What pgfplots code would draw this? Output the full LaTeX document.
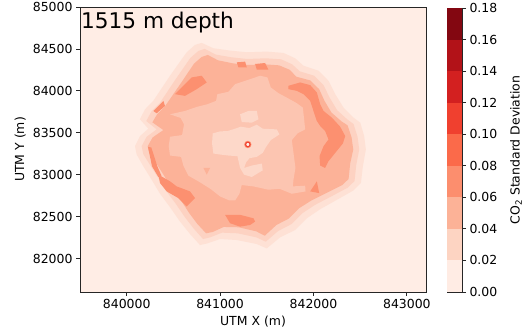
\documentclass[border=0pt]{standalone}
\usepackage{fontspec}
\setmainfont{DejaVu Sans}
\usepackage{pgfplots}
\pgfplotsset{compat=1.18}
\definecolor{bgc}{RGB}{255,237,229}
\definecolor{haloA}{RGB}{254,225,213}
\definecolor{haloB}{RGB}{253,210,194}
\definecolor{bodyc}{RGB}{252,178,152}
\definecolor{patchc}{RGB}{252,144,112}
\definecolor{innerc}{RGB}{252,197,177}
\definecolor{centc}{RGB}{253,216,201}
\definecolor{corec}{RGB}{255,242,236}
\definecolor{cA}{RGB}{255,236,228}
\definecolor{cB}{RGB}{253,212,194}
\definecolor{cC}{RGB}{252,178,151}
\definecolor{cD}{RGB}{252,142,110}
\definecolor{cE}{RGB}{251,106,74}
\definecolor{cF}{RGB}{240,64,47}
\definecolor{cG}{RGB}{211,32,32}
\definecolor{cH}{RGB}{178,18,24}
\definecolor{cI}{RGB}{131,7,17}
\pgfplotsset{
  every tick label/.append style={font=\fontsize{12.5}{14}\selectfont},
  every axis label/.append style={font=\fontsize{12.5}{14}\selectfont},
}
\begin{document}
\begin{tikzpicture}
\path[use as bounding box] (-80bp,-40bp) rectangle (446bp,292bp);
\begin{axis}[
  at={(0bp,0bp)}, anchor=south west,
  scale only axis, width=346bp, height=285bp,
  xmin=839500, xmax=843205, ymin=81600, ymax=85000,
  axis background/.style={fill=bgc},
  xtick={840000,841000,842000,843000},
  ytick={82000,82500,83000,83500,84000,84500,85000},
  scaled ticks=false,
  xticklabel style={/pgf/number format/.cd, fixed, set thousands separator={}, assume math mode=true},
  yticklabel style={/pgf/number format/.cd, fixed, set thousands separator={}, assume math mode=true},
  tick align=outside, tick pos=left,
  major tick length=4bp,
  tick style={black!85, line width=0.8bp},
  axis line style={black!85, line width=0.8bp},
  no markers,
  xlabel={UTM X (m)}, ylabel={UTM Y (m)},
  every axis x label/.style={at={(axis description cs:0.5,-0.105)}, anchor=center},
  every axis y label/.style={at={(axis description cs:-0.173,0.5)}, rotate=90, anchor=center},
]
% outer halo
\addplot[draw=none, fill=haloA] coordinates {
(840089,83340) (840142,83460) (840232,83548) (840142,83660) (840196,83780) (840285,83880)
(840357,84000) (840464,84180) (840553,84320) (840643,84460) (840732,84548) (840803,84572)
(840928,84508) (841107,84480) (841286,84460) (841500,84468) (841679,84452) (841804,84388)
(841893,84300) (842054,84240) (842161,84120) (842233,83960) (842322,83800) (842429,83680)
(842501,83620) (842543,83460) (842561,83300) (842529,83100) (842508,82900) (842429,82812)
(842251,82700) (842072,82588) (841929,82480) (841804,82340) (841643,82252) (841500,82120)
(841393,82172) (841179,82220) (841000,82232) (840864,82180) (840785,82160) (840678,82292)
(840571,82440) (840464,82612) (840357,82772) (840267,82940) (840178,83100) (840107,83240)};
% second halo
\addplot[draw=none, fill=haloB] coordinates {
(840160,83340) (840214,83452) (840321,83540) (840210,83640) (840264,83752) (840350,83848)
(840418,83960) (840518,84128) (840600,84260) (840682,84392) (840768,84476) (840836,84500)
(840954,84432) (841121,84400) (841289,84380) (841489,84388) (841654,84376) (841772,84316)
(841854,84232) (842008,84180) (842108,84068) (842172,83920) (842254,83768) (842361,83660)
(842429,83604) (842472,83452) (842490,83300) (842458,83116) (842440,82924) (842365,82844)
(842190,82740) (842018,82640) (841886,82544) (841768,82412) (841622,82328) (841489,82200)
(841389,82252) (841189,82300) (841021,82308) (840893,82252) (840818,82232) (840718,82356)
(840621,82496) (840521,82660) (840421,82808) (840335,82964) (840250,83116) (840178,83244)};
% main body
\addplot[draw=none, fill=bodyc] coordinates {
(840225,83340) (840278,83444) (840393,83532) (840275,83624) (840328,83724) (840410,83816)
(840475,83920) (840571,84076) (840646,84200) (840721,84324) (840803,84404) (840868,84428)
(840978,84364) (841136,84328) (841293,84308) (841479,84316) (841632,84304) (841743,84252)
(841818,84168) (841965,84124) (842061,84020) (842118,83880) (842193,83740) (842300,83636)
(842365,83588) (842408,83444) (842426,83300) (842393,83132) (842376,82948) (842308,82876)
(842136,82780) (841972,82688) (841847,82600) (841736,82476) (841604,82400) (841479,82272)
(841386,82324) (841200,82372) (841039,82376) (840921,82316) (840850,82300) (840757,82412)
(840668,82544) (840575,82704) (840478,82844) (840396,82996) (840314,83140) (840242,83252)};
% darker patches
\addplot[draw=none, fill=patchc] coordinates {
(840518,83960) (840696,84160) (840803,84180) (840857,84100) (840750,84020) (840625,83940)};
\addplot[draw=none, fill=patchc] coordinates {
(840285,83760) (840393,83880) (840410,83820) (840321,83732)};
\addplot[draw=none, fill=patchc] coordinates {
(841179,84340) (841268,84348) (841286,84280) (841196,84280)};
\addplot[draw=none, fill=patchc] coordinates {
(841375,84320) (841482,84332) (841518,84252) (841393,84252)};
\addplot[draw=none, fill=patchc] coordinates {
(841732,84060) (841857,84100) (841965,84068) (842036,83980) (842072,83840) (842108,83760)
(842197,83680) (842286,83572) (842340,83460) (842315,83372) (842233,83260) (842161,83160)
(842125,83080) (842072,83108) (842065,83220) (842108,83340) (842161,83420) (842125,83520)
(842072,83580) (842036,83640) (842000,83760) (841965,83880) (841893,83960) (841822,84000)
(841732,84020)};
\addplot[draw=none, fill=patchc] coordinates {
(841965,82800) (842036,82920) (842061,82780)};
\addplot[draw=none, fill=patchc] coordinates {
(841054,82520) (841214,82520) (841357,82480) (841375,82440) (841322,82400) (841214,82380)
(841107,82420)};
\addplot[draw=none, fill=patchc] coordinates {
(840339,83000) (840464,82920) (840535,82860) (840678,82800) (840732,82720) (840643,82620)
(840553,82720) (840428,82800) (840357,82900)};
\addplot[draw=none, fill=patchc] coordinates {
(840228,83332) (840264,83324) (840328,83100) (840375,82980) (840339,82972) (840271,83100)};
% inner lighter region
\addplot[draw=none, fill=innerc] coordinates {
(840464,83720) (840625,83760) (840750,83808) (840864,83840) (840957,83880) (840971,83960)
(841089,83988) (841161,84080) (841304,84132) (841429,84180) (841507,84160) (841543,84040)
(841625,83972) (841732,83908) (841822,83852) (841886,83800) (841900,83660) (841911,83540)
(841829,83492) (841768,83412) (841786,83260) (841807,83080) (841786,82940) (841779,82860)
(841911,82868) (841915,82800) (841768,82772) (841636,82832) (841518,82820) (841357,82860)
(841232,82876) (841207,82772) (841161,82692) (841100,82692) (841000,82740) (840900,82828)
(840786,82908) (840661,82988) (840607,83108) (840582,83212) (840464,83228) (840450,83340)
(840464,83452) (840593,83472) (840614,83600) (840578,83676)};
\addplot[draw=none, fill=bodyc] coordinates {
(840821,83080) (840893,83080) (840857,83000)};
% central light region
\addplot[draw=none, fill=centc] coordinates {
(840921,83492) (841000,83516) (841079,83520) (841161,83548) (841221,83572) (841314,83556)
(841393,83596) (841457,83548) (841607,83540) (841636,83480) (841543,83412) (841493,83332)
(841457,83260) (841393,83212) (841314,83196) (841279,83148) (841257,83080) (841339,83108)
(841447,83132) (841457,83052) (841339,82972) (841257,83000) (841214,83080) (841186,83220)
(841089,83228) (841000,83240) (840928,83252) (840914,83372)};
\addplot[draw=none, fill=centc] coordinates {
(841214,83720) (841304,83760) (841393,83760) (841411,83660) (841339,83620) (841232,83628)};
% injection ring
\addplot[draw=none, fill=cD] coordinates {
(841336,83360) (841325,83391) (841297,83404) (841269,83391) (841258,83360) (841269,83329)
(841297,83316) (841325,83329)};
\addplot[draw=none, fill=cF] coordinates {
(841327,83360) (841318,83384) (841297,83394) (841276,83384) (841267,83360) (841276,83336)
(841297,83326) (841318,83336)};
\addplot[draw=none, fill=corec] coordinates {
(841313,83360) (841308,83373) (841297,83378) (841286,83373) (841281,83360) (841286,83347)
(841297,83342) (841308,83347)};
\node[anchor=base west, font=\fontsize{21.7}{24}\selectfont, inner sep=0pt]
  at (rel axis cs:0,1) [xshift=1bp, yshift=-21.3bp] {1515 m depth};
\end{axis}
\begin{axis}[
  at={(367bp,0bp)}, anchor=south west,
  scale only axis, width=15bp, height=284bp,
  xmin=0, xmax=1, ymin=0, ymax=0.18,
  xtick=\empty,
  ytick={0,0.02,0.04,0.06,0.08,0.10,0.12,0.14,0.16,0.18},
  ytick pos=right, yticklabel pos=right,
  yticklabel style={/pgf/number format/.cd, fixed, fixed zerofill, precision=2, assume math mode=true},
  tick align=outside,
  major tick length=4bp,
  tick style={black!85, line width=0.8bp},
  axis line style={black!85, line width=0.8bp},
  no markers,
  ylabel={CO\textsubscript{2} Standard Deviation},
  every axis y label/.style={at={(axis description cs:4.6,0.5)}, rotate=90, anchor=center},
]
\addplot[draw=none, fill=cA] coordinates {(0,0) (1,0) (1,0.02) (0,0.02)};
\addplot[draw=none, fill=cB] coordinates {(0,0.02) (1,0.02) (1,0.04) (0,0.04)};
\addplot[draw=none, fill=cC] coordinates {(0,0.04) (1,0.04) (1,0.06) (0,0.06)};
\addplot[draw=none, fill=cD] coordinates {(0,0.06) (1,0.06) (1,0.08) (0,0.08)};
\addplot[draw=none, fill=cE] coordinates {(0,0.08) (1,0.08) (1,0.10) (0,0.10)};
\addplot[draw=none, fill=cF] coordinates {(0,0.10) (1,0.10) (1,0.12) (0,0.12)};
\addplot[draw=none, fill=cG] coordinates {(0,0.12) (1,0.12) (1,0.14) (0,0.14)};
\addplot[draw=none, fill=cH] coordinates {(0,0.14) (1,0.14) (1,0.16) (0,0.16)};
\addplot[draw=none, fill=cI] coordinates {(0,0.16) (1,0.16) (1,0.18) (0,0.18)};
\end{axis}
\end{tikzpicture}
\end{document}
